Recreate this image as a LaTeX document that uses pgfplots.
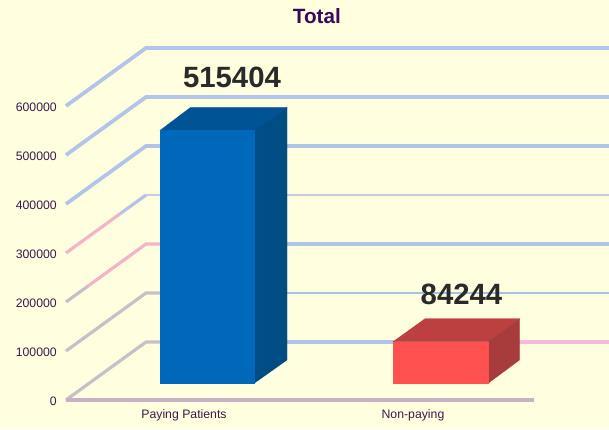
\documentclass[border=0pt]{standalone}
\usepackage{fontspec}
\setmainfont{Liberation Sans}
\usepackage{pgfplots}
\pgfplotsset{compat=1.18}
\definecolor{bg}{HTML}{FFFFE0}
\definecolor{gblue}{HTML}{B2C4EA}
\definecolor{glav}{HTML}{C0BCE8}
\definecolor{gblue2}{HTML}{A8C4E6}
\definecolor{gthin}{HTML}{C4CEDC}
\definecolor{gpink}{HTML}{F4B4C8}
\definecolor{gpink2}{HTML}{F8B8D8}
\definecolor{ggray}{HTML}{C8C0C8}
\definecolor{gfloor}{HTML}{C8B0C8}
\definecolor{lab}{HTML}{3A1A4E}
\definecolor{ttl}{HTML}{3A0A5A}
\definecolor{val}{HTML}{2A2A2A}
\definecolor{bfront}{HTML}{0068B8}
\definecolor{btop}{HTML}{005496}
\definecolor{bside}{HTML}{004C84}
\definecolor{rfront}{HTML}{FF5050}
\definecolor{rtop}{HTML}{BC4040}
\definecolor{rside}{HTML}{A83C3C}
\begin{document}
\begin{tikzpicture}
\fill[bg] (0,0) rectangle (456.75pt,321.75pt);
\begin{axis}[
  at={(49.5pt,21.75pt)}, anchor=south west,
  scale only axis, width=407.25pt, height=300pt,
  xmin=66, xmax=609, ymin=0, ymax=816327,
  clip=false,
  axis line style={draw=none},
  major tick length=0pt,
  xtick={184,413}, xticklabels={Paying Patients,Non-paying},
  ytick={0,100000,200000,300000,400000,500000,600000},
  scaled y ticks=false,
  /pgf/number format/assume math mode=true,
  /pgf/number format/fixed,
  /pgf/number format/1000 sep={},
  tick label style={font=\fontsize{9.2}{11}\selectfont, text=lab, inner sep=0pt},
  ytick style={draw=none}, xtick style={draw=none},
  y tick label style={xshift=-6.75pt, yshift=-0.6pt},
  x tick label style={yshift=-7pt},
  title={\fontsize{15.5}{18}\selectfont\bfseries\textcolor{ttl}{Total}},
  title style={at={(0.462,0.94)}, anchor=center, inner sep=0pt},
]
% floor diagonals and back wall grid
\addplot[draw=gblue, line width=2.8pt, no marks] coordinates {(66,600000)(146,718367)(609,718367)};
\addplot[draw=gblue, line width=2.8pt, no marks] coordinates {(66,500000)(146,618367)(609,618367)};
\addplot[draw=gblue, line width=2.8pt, no marks] coordinates {(66,400000)(146,518367)(609,518367)};
\addplot[draw=gpink, line width=2.4pt, no marks] coordinates {(66,300000)(120,380000)};
\addplot[draw=gblue, line width=2.4pt, no marks] coordinates {(120,380000)(146,418367)};
\addplot[draw=gthin, line width=1.8pt, no marks] coordinates {(146,418367)(609,418367)};
\addplot[draw=ggray, line width=2.4pt, no marks] coordinates {(66,200000)(88,232550)};
\addplot[draw=gpink, line width=2.4pt, no marks] coordinates {(88,232550)(146,318367)(160,318367)};
\addplot[draw=gblue, line width=2.8pt, no marks] coordinates {(160,318367)(609,318367)};
\addplot[draw=ggray, line width=2.4pt, no marks] coordinates {(66,100000)(146,218367)(160,218367)};
\addplot[draw=gblue2, line width=2pt, no marks] coordinates {(160,218367)(609,218367)};
\addplot[draw=ggray, line width=2.4pt, no marks] coordinates {(66,0)(146,118367)(160,118367)};
\addplot[draw=gblue, line width=2.8pt, no marks] coordinates {(160,118367)(520,118367)};
\addplot[draw=gpink2, line width=2.8pt, no marks] coordinates {(520,118367)(609,118367)};
\addplot[draw=gfloor, line width=2.8pt, no marks] coordinates {(66,0)(534,0)};
% Paying Patients bar, front face raised by 17 px onto the floor
\addplot[fill=btop, draw=btop, line width=0.2pt, no marks, yshift=12.75pt] coordinates {(160,515404)(190.5,562343)(287,562343)(254.5,515404)} -- cycle;
\addplot[fill=bside, draw=bside, line width=0.2pt, no marks, yshift=12.75pt] coordinates {(254.5,0)(287,46939)(287,562343)(254.5,515404)} -- cycle;
\addplot[fill=bfront, draw=bfront, line width=0.2pt, no marks, yshift=12.75pt] coordinates {(160,0)(254.5,0)(254.5,515404)(160,515404)} -- cycle;
% Non-paying bar
\addplot[fill=rtop, draw=rtop, line width=0.2pt, no marks, yshift=12.75pt] coordinates {(393,84244)(425,131183)(519.5,131183)(488.5,84244)} -- cycle;
\addplot[fill=rside, draw=rside, line width=0.2pt, no marks, yshift=12.75pt] coordinates {(488.5,0)(519.5,46939)(519.5,131183)(488.5,84244)} -- cycle;
\addplot[fill=rfront, draw=rfront, line width=0.2pt, no marks, yshift=12.75pt] coordinates {(393,0)(488.5,0)(488.5,84244)(393,84244)} -- cycle;
\node[text=val, font=\fontsize{22}{26}\selectfont\bfseries, inner sep=0pt] at (axis cs:232,658000) {515404};
\node[text=val, font=\fontsize{22}{26}\selectfont\bfseries, inner sep=0pt] at (axis cs:461.5,216000) {84244};
\end{axis}
\pgfresetboundingbox
\path[use as bounding box] (0,0) rectangle (456.75pt,321.75pt);
\end{tikzpicture}
\end{document}
